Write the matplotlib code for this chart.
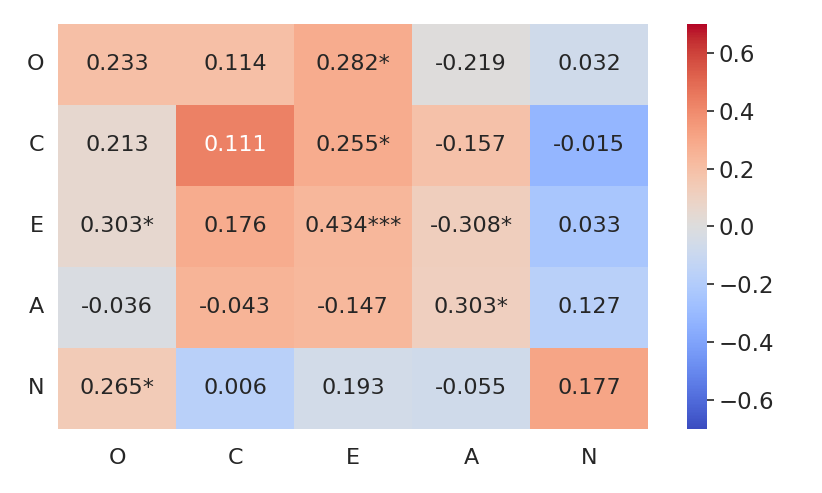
import numpy as np
import matplotlib
matplotlib.use("Agg")
import matplotlib.pyplot as plt
import seaborn as sns

traits = ["O", "C", "E", "A", "N"]

# colour values (read from the cell shades)
color_vals = np.array([
    [0.20, 0.20, 0.28, 0.01, -0.07],
    [0.05, 0.43, 0.28, 0.19, -0.32],
    [0.05, 0.28, 0.24, 0.12, -0.24],
    [-0.02, 0.25, 0.23, 0.11, -0.17],
    [0.14, -0.17, -0.06, -0.07, 0.31],
])

# printed annotations
annot_text = np.array([
    ["0.233", "0.114", "0.282*", "-0.219", "0.032"],
    ["0.213", "0.111", "0.255*", "-0.157", "-0.015"],
    ["0.303*", "0.176", "0.434***", "-0.308*", "0.033"],
    ["-0.036", "-0.043", "-0.147", "0.303*", "0.127"],
    ["0.265*", "0.006", "0.193", "-0.055", "0.177"],
])

sns.set_style("white")
plt.rcParams['font.family'] = ['DejaVu Sans']

fig = plt.figure(figsize=(8.22, 4.93), dpi=100)
ax = fig.add_axes([0.0706, 0.130, 0.718, 0.8215])
cax = fig.add_axes([0.836, 0.130, 0.024, 0.8215])

sns.heatmap(color_vals, annot=annot_text, fmt="", cmap="coolwarm",
            vmin=-0.7, vmax=0.7, ax=ax, cbar_ax=cax,
            xticklabels=traits, yticklabels=traits,
            annot_kws={"size": 16})

ax.tick_params(axis="x", labelsize=16, length=0, pad=14)
ax.tick_params(axis="y", labelsize=16, length=0, pad=10)
ax.set_yticklabels(traits, rotation=0)
cax.tick_params(labelsize=16.5, length=5, width=1.2, colors="#262626")
cax.set_yticks([-0.6, -0.4, -0.2, 0.0, 0.2, 0.4, 0.6])

fig.savefig("out.png", dpi=100)
